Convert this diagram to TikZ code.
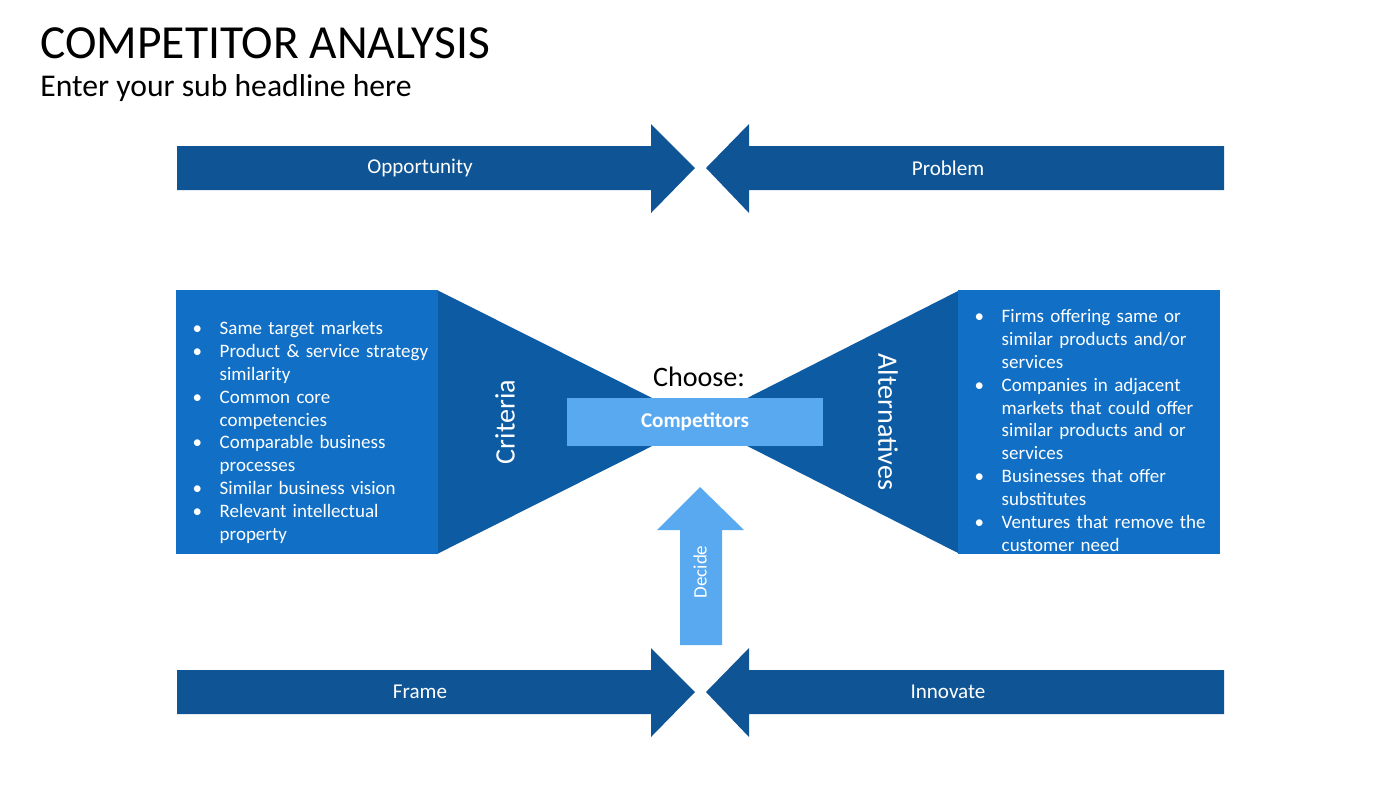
\documentclass[tikz,border=0pt]{standalone}
\usepackage{fontspec}
\setmainfont{Carlito}
\usepackage{enumitem}
\definecolor{darkblue}{HTML}{0F5494}
\definecolor{boxblue}{HTML}{1170C6}
\definecolor{bowblue}{HTML}{0D5BA3}
\definecolor{lightblue}{HTML}{58A9F0}
\newcommand{\bulletlist}[2]{%
  \begin{itemize}[leftmargin=#1,itemsep=0pt,parsep=0pt,topsep=0pt,label=\textbullet]#2\end{itemize}}
\begin{document}
\begin{tikzpicture}
  [ x=0.01cm, y=-0.01cm,
    flow/.style={fill=darkblue, draw=none},
    lbl/.style={text=white, font=\fontsize{6}{7}\selectfont},
    lst/.style={text=white, font=\fontsize{5.4}{6.5}\selectfont, inner sep=0pt, anchor=north west}
  ]
  \useasboundingbox (0,0) rectangle (1400,793);
  % headline
  \node (title) at (28,43) [anchor=west, font=\fontsize{13.5}{15}\selectfont] {COMPETITOR ANALYSIS};
  \node (sub)   at (28,88) [anchor=west, font=\fontsize{9}{11}\selectfont] {Enter your sub headline here};

  % top and bottom arrows
  \foreach \yy/\ltext/\rtext/\nm in {168/Opportunity/ Problem/Potential Solutions/top, 692/Frame/Innovate/bot} {
    \fill[flow] (177,\yy-22) -- (651,\yy-22) -- (651,\yy-44) -- (695,\yy) -- (651,\yy+45)
      -- (651,\yy+22) -- (177,\yy+22) -- cycle;
    \fill[flow] (1224,\yy-22) -- (749,\yy-22) -- (749,\yy-44) -- (706,\yy) -- (749,\yy+45)
      -- (749,\yy+22) -- (1224,\yy+22) -- cycle;
    \node (\nm L) at (420,\yy) [lbl] {\ltext};
    \node (\nm R) at (948,\yy) [lbl] {\rtext};
  }

  % bow tie
  \fill[bowblue] (437,290) -- (700,422) -- (437,554) -- cycle;
  \fill[bowblue] (960,290) -- (700,422) -- (960,554) -- cycle;
  \fill[boxblue] (176,290) rectangle (438,554);
  \fill[boxblue] (958,290) rectangle (1220,554);

  \node (crit) at (505,422) [lbl, rotate=90, font=\fontsize{8}{9}\selectfont] {Criteria};
  \node (alt)  at (888,422) [lbl, rotate=-90, font=\fontsize{8}{9}\selectfont] {Alternatives};

  \node (choose) at (699,377) [font=\fontsize{8}{9}\selectfont] {Choose:};
  \node (comp) at (695,422) [fill=lightblue, minimum width=2.55cm, minimum height=0.48cm,
    inner sep=0pt, text=white, font=\bfseries\fontsize{6}{7}\selectfont] {Competitors};

  % decide arrow
  \fill[lightblue] (680,645) -- (680,530) -- (657,530) -- (700,487) -- (744,530)
    -- (722,530) -- (722,645) -- cycle;
  \node (decide) at (700,572) [lbl, rotate=90, font=\fontsize{5.4}{6}\selectfont] {Decide};

  % lists
  \node (critlist) at (186,311) [lst, text width=2.44cm] {\bulletlist{0.33cm}{%
    \item Same target markets
    \item Product \& service strategy similarity
    \item Common core competencies
    \item Comparable business processes
    \item Similar business vision
    \item Relevant intellectual property}};
  \node (altlist) at (972,299) [lst, text width=2.40cm] {\bulletlist{0.29cm}{%
    \item Firms offering same or similar products and/or services
    \item Companies in adjacent markets that could offer similar products and or services
    \item Businesses that offer substitutes
    \item Ventures that remove the customer need}};
\end{tikzpicture}
\end{document}
